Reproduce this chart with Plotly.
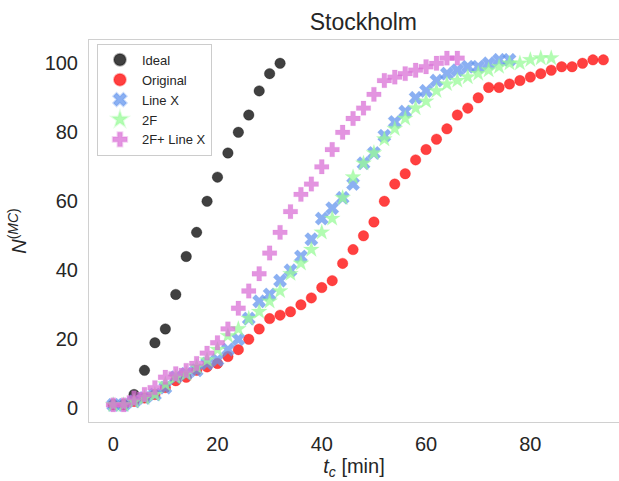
import plotly.graph_objects as go

# ---- data ----
ideal_t = [0, 2, 4, 6, 8, 10, 12, 14, 16, 18, 20, 22, 24, 26, 28, 30, 32]
ideal_n = [1, 1, 4, 11, 19, 23, 33, 44, 51, 60, 67, 74, 80, 85, 92, 97, 100]

orig_t = list(range(0, 96, 2))
orig_n = [1, 1, 2, 3, 4, 6, 8, 9, 11, 12,
          13, 15, 17, 20, 23, 26, 27, 28, 30, 32,
          35, 37, 42, 46, 50, 54, 60, 65, 68, 72,
          75, 78, 81, 85, 87, 90, 93, 93, 94, 95,
          96, 97, 98, 99, 99, 100, 101, 101]

linex_t = list(range(0, 78, 2))
linex_n = [1, 1, 2, 3, 4, 6, 9, 10, 11, 13,
           14, 17, 20, 26, 31, 33, 37, 40, 44, 49,
           55, 58, 61, 65, 71, 74, 79, 83, 86, 90,
           92, 95, 97, 98, 99, 99, 100, 101, 101]

f2_t = list(range(0, 86, 2))
f2_n = [1, 1, 2, 3, 4, 7, 9, 10, 12, 14,
        17, 21, 23, 26, 28, 31, 34, 39, 42, 46,
        51, 55, 61, 67, 71, 74, 78, 81, 84, 87,
        89, 92, 94, 95, 96, 97, 98, 99, 100, 100,
        101, 101.5, 101.5]

f2lx_t = list(range(0, 68, 2))
f2lx_n = [1, 1, 3, 4, 6, 9, 10, 11, 13, 16,
          19, 23, 29, 34, 39, 45, 51, 57, 62, 65,
          70, 75, 80, 84, 87, 91, 95, 96, 97, 98,
          99, 100, 101.5, 101.5]

labels = ["Ideal", "Original", "Line X", "2F", "2F+ Line X"]

fig = go.Figure()

def add(t, n, name, symbol, fill, edge, size, lw):
    fig.add_trace(go.Scatter(
        x=t, y=n, mode="markers", name=name,
        marker=dict(symbol=symbol, size=size, color=fill,
                    line=dict(color=edge, width=lw)),
    ))

add(ideal_t, ideal_n, labels[0], "circle", "rgba(0,0,0,0.75)", "rgba(0,0,0,0.3)", 10.5, 1)
add(orig_t, orig_n, labels[1], "circle", "rgba(255,0,0,0.75)", "rgba(255,0,0,0.3)", 10.5, 1)
add(linex_t, linex_n, labels[2], "x", "rgba(100,149,237,0.75)", "rgba(100,149,237,0.3)", 12, 0.5)
add(f2_t, f2_n, labels[3], "star", "rgba(152,251,152,0.75)", "rgba(152,251,152,0.3)", 12, 0.5)
add(f2lx_t, f2lx_n, labels[4], "cross", "rgba(218,112,214,0.75)", "rgba(218,112,214,0.3)", 12, 0.5)

FONT = "Liberation Sans, Arial, sans-serif"
axis_font = dict(family=FONT, size=20, color="#262626")

fig.update_layout(
    width=619, height=481,
    margin=dict(l=89, r=0, t=40, b=59),
    paper_bgcolor="white", plot_bgcolor="white",
    title=dict(text="Stockholm", x=0.587, xanchor="center", y=0.955, yanchor="middle",
               font=dict(family=FONT, size=23, color="#262626")),
    font=dict(family=FONT, color="#262626"),
    showlegend=True,
    legend=dict(x=0.015, y=0.99, xanchor="left", yanchor="top",
                bgcolor="rgba(255,255,255,0.8)", bordercolor="#cccccc", borderwidth=1,
                font=dict(size=13, color="#262626"), itemsizing="constant", itemwidth=34),
)
fig.update_xaxes(
    range=[-4.64, 97.0], showgrid=False, zeroline=False,
    tickvals=[0, 20, 40, 60, 80], tickfont=axis_font,
    ticks="outside", ticklen=4, tickcolor="rgba(0,0,0,0)",
    showline=True, linecolor="#d0d0d0", linewidth=1, mirror=True,
    title=dict(text="<i>t</i><sub><i>c</i></sub> [min]", standoff=1,
               font=dict(family=FONT, size=20, color="#262626")),
)
fig.update_yaxes(
    range=[-3.97, 106.75], showgrid=False, zeroline=False,
    tickvals=[0, 20, 40, 60, 80, 100], tickfont=axis_font,
    ticks="outside", ticklen=6, tickcolor="rgba(0,0,0,0)",
    showline=True, linecolor="#d0d0d0", linewidth=1, mirror=False,
    title=dict(text="<i>N</i><sup>(<i>MC</i>)</sup>", standoff=12,
               font=dict(family=FONT, size=20, color="#262626")),
)

fig.write_html("out.html")
